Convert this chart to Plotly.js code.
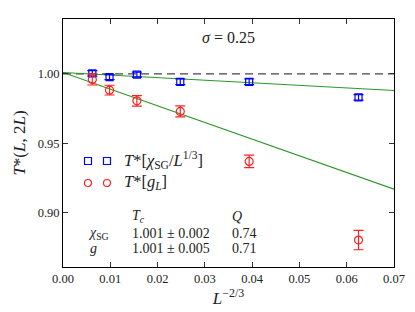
<!DOCTYPE html>
<html>
<head>
<meta charset="utf-8">
<script src="https://cdn.plot.ly/plotly-3.0.1.min.js"></script>
</head>
<body style="margin:0">
<div id="chart"></div>
<script>
// L^{-2/3} for L = 2048, 1024, 512, 256, 128, 64
const xVals = [0.0062, 0.00984, 0.015625, 0.0248, 0.03937, 0.0625];
const chiVals = [1.0004, 0.9977, 0.9994, 0.9943, 0.9943, 0.9831];
const chiErr = [0.002, 0.0018, 0.0018, 0.002, 0.002, 0.002];
const gVals = [0.9960, 0.9883, 0.9806, 0.9730, 0.9370, 0.8804];
const gErr = [0.0040, 0.0035, 0.0038, 0.0040, 0.0045, 0.0070];
const fitX = [0, 0.07];
const fitChi = [1.001, 0.988];
const fitG = [1.001, 0.917];
const refX = [0, 0.07];
const refY = [1.0, 1.0];
const xTicks = [0, 0.01, 0.02, 0.03, 0.04, 0.05, 0.06, 0.07];
const xTickText = ['0.00','0.01','0.02','0.03','0.04','0.05','0.06','0.07'];
const yTicks = [0.90, 0.95, 1.00];
const yTickText = ['0.90','0.95','1.00'];

const FONT = 'Liberation Serif';
const traces = [
  {x: refX, y: refY, mode: 'lines', line: {color: '#444', width: 1.2, dash: '8px,5px'}, hoverinfo: 'skip'},
  {x: fitX, y: fitChi, mode: 'lines', line: {color: '#2a962a', width: 1.1}},
  {x: fitX, y: fitG, mode: 'lines', line: {color: '#2a962a', width: 1.1}},
  {x: xVals, y: chiVals, mode: 'markers', marker: {symbol: 'square-open', size: 7, color: '#0000ff', line: {width: 1.2}},
   error_y: {type: 'data', array: chiErr, visible: true, color: '#0000ff', thickness: 1.2, width: 5}},
  {x: xVals, y: gVals, mode: 'markers', marker: {symbol: 'circle-open', size: 8, color: '#ff2020', line: {width: 1.2}},
   error_y: {type: 'data', array: gErr, visible: true, color: '#ff2020', thickness: 1.2, width: 5}}
];

function axBase(){
  return {
    ticks: 'inside', ticklen: 5, tickwidth: 1, tickcolor: '#333',
    showline: true, linecolor: '#000', linewidth: 1, mirror: 'allticks',
    showgrid: false, zeroline: false,
    tickfont: {family: FONT, size: 12.5, color: '#222'}
  };
}

const W = 415, H = 312, mL = 63, mR = 21, mT = 19, mB = 45;
const pw = W - mL - mR, ph = H - mT - mB;
const toPx = v => (v - mL) / pw;
const toPy = v => (H - mB - v) / ph;

const shapes = [];
function sq(cx, cy, c){ shapes.push({type:'rect', xref:'paper', yref:'paper', x0:toPx(cx-3.5), x1:toPx(cx+3.5), y0:toPy(cy+3.5), y1:toPy(cy-3.5), line:{color:c, width:1.2}}); }
function ci(cx, cy, c){ shapes.push({type:'circle', xref:'paper', yref:'paper', x0:toPx(cx-3.5), x1:toPx(cx+3.5), y0:toPy(cy+3.5), y1:toPy(cy-3.5), line:{color:c, width:1.2}}); }
sq(88, 161, '#0000ff'); sq(107, 161, '#0000ff');
ci(88, 183, '#ff2020'); ci(107, 183, '#ff2020');

function ann(text, cx, cy, size, anchor){
  return {text: text, xref: 'paper', yref: 'paper', x: toPx(cx), y: toPy(cy), xanchor: anchor || 'left', yanchor: 'middle',
          showarrow: false, font: {family: FONT, size: size || 14, color: '#222'}};
}
const annotations = [
  ann('<i>σ</i> = 0.25', 228, 37, 16, 'center'),
  ann('<i>T</i>*[<i>χ</i><sub>SG</sub>/<i>L</i><sup>1/3</sup>]', 122, 160, 16.5),
  ann('<i>T</i>*[<i>g<sub>L</sub></i>]', 122, 182, 16.5),
  ann('<i>T<sub>c</sub></i>', 130, 216),
  ann('<i>Q</i>', 230, 216),
  ann('<i>χ</i><sub>SG</sub>', 86, 233),
  ann('1.001 ± 0.002', 130, 233),
  ann('0.74', 230, 233),
  ann('<i>g</i>', 88, 248),
  ann('1.001 ± 0.005', 130, 248),
  ann('0.71', 230, 248)
];

const layout = {
  width: W, height: H,
  margin: {l: mL, r: mR, t: mT, b: mB},
  paper_bgcolor: '#fff', plot_bgcolor: '#fff',
  showlegend: false,
  font: {family: FONT, size: 12, color: '#222'},
  xaxis: Object.assign(axBase(), {range: [0, 0.07], tickvals: xTicks, ticktext: xTickText,
    title: {text: '<i>L</i><sup>−2/3</sup>', font: {family: FONT, size: 17, color: '#222'}, standoff: 3}}),
  yaxis: Object.assign(axBase(), {range: [0.861, 1.0395], tickvals: yTicks, ticktext: yTickText,
    title: {text: '<i>T</i>*(<i>L</i>, 2<i>L</i>)', font: {family: FONT, size: 17, color: '#222'}, standoff: 7}}),
  shapes: shapes,
  annotations: annotations
};

Plotly.newPlot('chart', traces, layout, {displayModeBar: false});
</script>
</body>
</html>
